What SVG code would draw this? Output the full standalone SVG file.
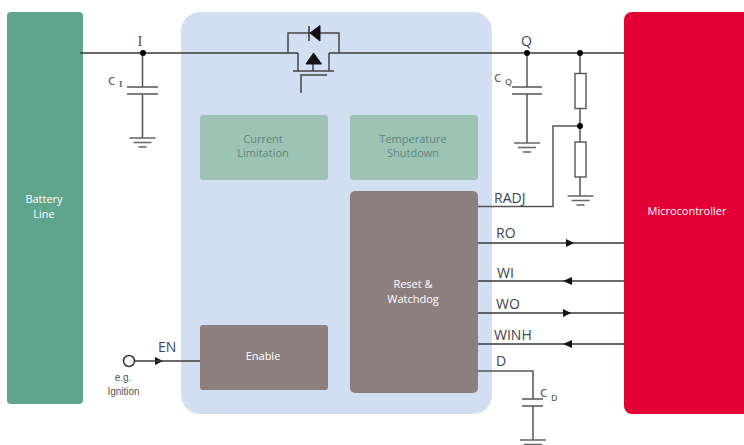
<svg xmlns="http://www.w3.org/2000/svg" width="744" height="445" viewBox="0 0 744 445">
<style>
text{font-family:"Open Sans","Noto Sans",sans-serif}
.l{font-size:14px;fill:#3c4450}
.b{font-size:11px;text-anchor:middle}
.w{fill:#fff;font-weight:500}
.t{fill:#5f857c}
.w1{fill:none;stroke:#555;stroke-width:1.5}
.th{fill:none;stroke:#3a3a3a;stroke-width:1.5}
.c{font-size:11.5px;fill:#6a6a66;font-weight:600}
.cs{font-size:9px;fill:#6a6a66;font-weight:600}
.grey{fill:#8e7f7f}
.green{fill:#9dc3b5}
.d{fill:#000}
</style>
<defs>
<g id="gnd"><path d="M-13 0H13M-9 4.500H9M-4 9H4" fill="none" stroke="#666" stroke-width="1.5"/></g>
</defs>
<rect width="744" height="445" fill="#fff"/>
<g id="block"><rect x="181" y="12" width="311" height="402" rx="19" fill="#d2dff3"/></g>
<g id="battery"><rect x="7" y="12" width="76" height="392" rx="4" fill="#5fa48d"/><text class="b w" x="44" y="203">Battery</text><text class="b w" x="44" y="218">Line</text></g>
<g id="connectors">
<path class="th" d="M80 53H298M329 53H625"/>
<path class="w1" d="M142.500 53V87M142.500 94V138"/>
<path class="w1" d="M527 53V87M527 94V143"/>
<path class="w1" d="M580 53V73M580 108V142M580 177V196"/>
<path class="w1" d="M478 206.500H553V126H580"/>
<path class="th" d="M478 243H625M478 281H625M478 313H625M478 344H625"/>
<path d="M566 239L574 243L566 247Z M572 277L563 281L572 285Z M563 309L571 313L563 317Z M572 340L563 344L572 348Z M155 357L163 361L155 365Z" fill="#111"/>
<path class="w1" d="M478 371H533V399M533 406V440"/>
<path class="th" d="M135 361H200"/>
<path class="w1" d="M127 87H158M127 94H158M512 87H542M512 94H542M522 399H543M522 406H543" style="stroke-width:1.7"/>
<use href="#gnd" x="142.500" y="138"/><use href="#gnd" x="527" y="143"/><use href="#gnd" x="580.500" y="196"/><use href="#gnd" x="533" y="440"/>
<rect x="575" y="73.500" width="11" height="35" fill="#fff" stroke="#555" stroke-width="1.4"/>
<rect x="575" y="142" width="11" height="35" fill="#fff" stroke="#555" stroke-width="1.4"/>
<circle cx="143" cy="53" r="3" class="d"/><circle cx="527" cy="53" r="3" class="d"/><circle cx="580" cy="53" r="3" class="d"/><circle cx="580" cy="126" r="3" class="d"/>
<circle cx="129" cy="361" r="5.500" fill="#fff" stroke="#333" stroke-width="1.500"/>
</g>
<g id="mosfet" fill="none" stroke="#444" stroke-width="1.500">
<path d="M288 53V33H339V53"/>
<path d="M298 53V71M329 53V71M293 71H334M313 62V71"/>
<path d="M301 93V75H327"/>
<path d="M320 25.500L310 33L320 41Z" fill="#111" stroke="#111" stroke-width="1"/>
<path d="M309 26V41" stroke="#333"/>
<path d="M313.500 53L306 64H321.500Z" fill="#111" stroke="#111" stroke-width="1"/>
</g>
<g id="current"><rect x="200" y="115" width="128" height="65" rx="3" class="green"/><text class="b t" x="263" y="143">Current</text><text class="b t" x="263" y="157">Limitation</text></g>
<g id="temperature"><rect x="350" y="115" width="128" height="65" rx="3" class="green"/><text class="b t" x="413" y="143">Temperature</text><text class="b t" x="413" y="157">Shutdown</text></g>
<g id="reset"><rect x="350" y="191" width="128" height="202" rx="5" class="grey"/><text class="b w" x="413" y="288">Reset &amp;</text><text class="b w" x="413" y="303">Watchdog</text></g>
<g id="enable"><rect x="200" y="325" width="128" height="65" rx="3" class="grey"/><text class="b w" x="263" y="360">Enable</text></g>
<g id="micro"><rect x="624" y="12" width="130" height="402" rx="8" fill="#e30034"/><text class="b w" x="687" y="215">Microcontroller</text></g>
<g id="labels">
<text x="137.500" y="46" font-size="15" fill="#5a5550" style="font-family:'Liberation Serif',serif">I</text><text class="l" x="521" y="46">Q</text>
<text class="l" x="494" y="203">RADJ</text><text class="l" x="496" y="238">RO</text><text class="l" x="497" y="278">WI</text><text class="l" x="496" y="309">WO</text><text class="l" x="494" y="340">WINH</text><text class="l" x="496" y="366">D</text><text class="l" x="158" y="352">EN</text>
<text class="c" x="108" y="85">C</text><text class="cs" x="119" y="87" style="font-family:'Liberation Serif',serif">I</text>
<text class="c" x="494" y="82">C</text><text class="cs" x="505" y="85">Q</text>
<text class="c" x="540" y="397">C</text><text class="cs" x="551" y="401">D</text>
<text x="123" y="381" font-size="10" fill="#555" text-anchor="middle" style="font-family:'Liberation Sans',sans-serif">e.g.</text>
<text x="123.500" y="395" font-size="10" fill="#555" text-anchor="middle" style="font-family:'Liberation Sans',sans-serif">Ignition</text>
</g>
</svg>
